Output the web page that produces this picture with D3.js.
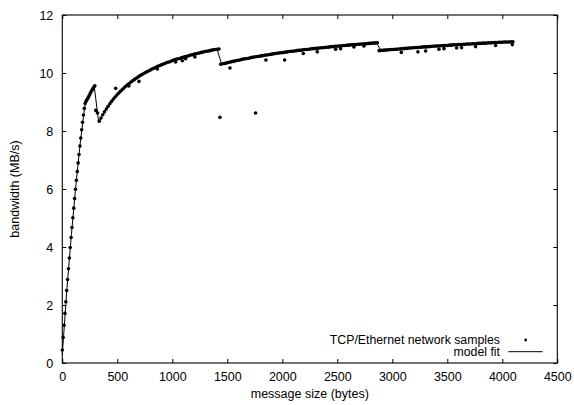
<!DOCTYPE html>
<html>
<head>
<meta charset="utf-8">
<script src="https://cdn.jsdelivr.net/npm/d3@7"></script>
<style>
  html, body { margin: 0; padding: 0; background: #fff; }
  svg { display: block; }
  text { font-family: "Liberation Sans", Arial, Helvetica, sans-serif; font-size: 12.5px; fill: #000; }
</style>
</head>
<body>
<script>
// ---------------- data ----------------
const xTicks = [0, 500, 1000, 1500, 2000, 2500, 3000, 3500, 4000, 4500];
const yTicks = [0, 2, 4, 6, 8, 10, 12];
const xLabel = "message size (bytes)";
const yLabel = "bandwidth (MB/s)";
const legendLabels = ["TCP/Ethernet network samples", "model fit"];

// measured samples [message size (bytes), bandwidth (MB/s)]
const samplesShort = [
  [0,0.45],[8,0.88],[16,1.30],[24,1.71],[32,2.11],[40,2.50],[48,2.88],[56,3.25],[64,3.62],[72,3.98],
  [80,4.33],[88,4.67],[96,5.01],[104,5.34],[112,5.67],[120,5.99],[128,6.30],[136,6.60],[144,6.90],[152,7.19],
  [160,7.48],[168,7.76],[176,8.04],[184,8.30],[192,8.55],[200,8.78],[208,8.95],[216,9.03],[224,9.08],[232,9.13],
  [240,9.19],[248,9.25],[256,9.31],[264,9.37],[272,9.42],[280,9.47],[288,9.52],[296,9.56],[304,8.71],[320,8.62]
];
const samplesOnePacket = [
  [336,8.34],[352,8.45],[368,8.56],[384,8.66],[400,8.76],[416,8.85],[432,8.94],[448,9.02],[464,9.10],[480,9.17],
  [496,9.24],[512,9.30],[528,9.37],[544,9.42],[560,9.48],[576,9.54],[592,9.59],[608,9.64],[624,9.69],[640,9.73],
  [656,9.78],[672,9.82],[688,9.86],[704,9.90],[720,9.94],[736,9.97],[752,10.01],[768,10.04],[784,10.07],[800,10.10],
  [816,10.14],[832,10.16],[848,10.19],[864,10.22],[880,10.25],[896,10.27],[912,10.30],[928,10.32],[944,10.35],[960,10.37],
  [976,10.39],[992,10.41],[1008,10.44],[1024,10.46],[1040,10.48],[1056,10.49],[1072,10.51],[1088,10.53],[1104,10.55],[1120,10.57],
  [1136,10.58],[1152,10.60],[1168,10.62],[1184,10.63],[1200,10.65],[1216,10.66],[1232,10.68],[1248,10.69],[1264,10.71],[1280,10.72],
  [1296,10.74],[1312,10.75],[1328,10.76],[1344,10.77],[1360,10.79],[1376,10.80],[1392,10.81],[1408,10.82],[1424,10.83]
];
const samplesTwoPackets = [
  [1440,10.30],[1456,10.32],[1472,10.33],[1488,10.34],[1504,10.36],[1520,10.37],[1536,10.39],[1552,10.40],[1568,10.41],[1584,10.43],
  [1600,10.44],[1616,10.45],[1632,10.47],[1648,10.48],[1664,10.49],[1680,10.50],[1696,10.51],[1712,10.53],[1728,10.54],[1744,10.55],
  [1760,10.56],[1776,10.57],[1792,10.58],[1808,10.59],[1824,10.60],[1840,10.61],[1856,10.62],[1872,10.63],[1888,10.64],[1904,10.65],
  [1920,10.66],[1936,10.67],[1952,10.68],[1968,10.69],[1984,10.70],[2000,10.70],[2016,10.71],[2032,10.72],[2048,10.73],[2064,10.74],
  [2080,10.75],[2096,10.75],[2112,10.76],[2128,10.77],[2144,10.78],[2160,10.78],[2176,10.79],[2192,10.80],[2208,10.81],[2224,10.81],
  [2240,10.82],[2256,10.83],[2272,10.84],[2288,10.84],[2304,10.85],[2320,10.85],[2336,10.86],[2352,10.87],[2368,10.87],[2384,10.88],
  [2400,10.89],[2416,10.89],[2432,10.90],[2448,10.91],[2464,10.91],[2480,10.92],[2496,10.92],[2512,10.93],[2528,10.93],[2544,10.94],
  [2560,10.95],[2576,10.95],[2592,10.96],[2608,10.96],[2624,10.97],[2640,10.97],[2656,10.98],[2672,10.98],[2688,10.99],[2704,10.99],
  [2720,11.00],[2736,11.00],[2752,11.01],[2768,11.01],[2784,11.02],[2800,11.02],[2816,11.03],[2832,11.03],[2848,11.04],[2864,11.04]
];
const samplesThreePackets = [
  [2880,10.77],[2896,10.78],[2912,10.78],[2928,10.79],[2944,10.79],[2960,10.80],[2976,10.80],[2992,10.81],[3008,10.81],[3024,10.82],
  [3040,10.82],[3056,10.83],[3072,10.83],[3088,10.84],[3104,10.84],[3120,10.85],[3136,10.85],[3152,10.86],[3168,10.86],[3184,10.87],
  [3200,10.87],[3216,10.88],[3232,10.88],[3248,10.89],[3264,10.89],[3280,10.90],[3296,10.90],[3312,10.90],[3328,10.91],[3344,10.91],
  [3360,10.92],[3376,10.92],[3392,10.93],[3408,10.93],[3424,10.93],[3440,10.94],[3456,10.94],[3472,10.95],[3488,10.95],[3504,10.95],
  [3520,10.96],[3536,10.96],[3552,10.97],[3568,10.97],[3584,10.97],[3600,10.98],[3616,10.98],[3632,10.98],[3648,10.99],[3664,10.99],
  [3680,11.00],[3696,11.00],[3712,11.00],[3728,11.01],[3744,11.01],[3760,11.01],[3776,11.02],[3792,11.02],[3808,11.02],[3824,11.03],
  [3840,11.03],[3856,11.03],[3872,11.04],[3888,11.04],[3904,11.04],[3920,11.05],[3936,11.05],[3952,11.05],[3968,11.06],[3984,11.06],
  [4000,11.06],[4016,11.07],[4032,11.07],[4048,11.07],[4064,11.07],[4080,11.08],[4096,11.08]
];
const samplesOutliers = [
  [485,9.47],[605,9.55],[697,9.71],[864,10.14],[1030,10.38],[1091,10.42],[1121,10.49],[1205,10.55],
  [1433,8.47],[1757,8.62],[1524,10.17],[1851,10.45],[2021,10.45],[2191,10.67],[2318,10.73],[2485,10.82],
  [2530,10.84],[2651,10.90],[2742,10.93],[3082,10.71],[3233,10.73],[3303,10.76],[3424,10.82],[3470,10.84],
  [3585,10.86],[3630,10.87],[3757,10.91],[3939,10.95],[4091,10.98]
];

// model fit curve [message size (bytes), bandwidth (MB/s)]
const modelFit = [
  [0,0.30],[41,2.50],[83,4.44],[124,6.15],[166,7.69],[207,8.93],[248,9.25],[290,9.55],
  [331,8.30],[372,8.59],[414,8.84],[538,9.40],[662,9.79],[828,10.16],[993,10.42],[1158,10.61],[1324,10.76],[1407,10.82],
  [1448,10.31],[1655,10.48],[1903,10.65],[2151,10.78],[2441,10.90],[2648,10.97],[2855,11.04],
  [2896,10.78],[3186,10.87],[3475,10.95],[3806,11.02],[4096,11.08]
];

// ---------------- drawing ----------------
const W = 574, H = 405;
const plot = { left: 62.3, right: 557.3, top: 15, bottom: 363 };

const svg = d3.select("body").append("svg").attr("width", W).attr("height", H);

const x = d3.scaleLinear().domain([0, 4500]).range([plot.left, plot.right]);
const y = d3.scaleLinear().domain([0, 12]).range([plot.bottom, plot.top]);

const tickLen = 4;

const gB = svg.append("g").attr("transform", `translate(0,${plot.bottom})`)
  .call(d3.axisBottom(x).tickValues(xTicks).tickFormat(d3.format("d"))
    .tickSizeInner(-tickLen).tickSizeOuter(0).tickPadding(9));
const gT = svg.append("g").attr("transform", `translate(0,${plot.top})`)
  .call(d3.axisTop(x).tickValues(xTicks).tickFormat("")
    .tickSizeInner(-tickLen).tickSizeOuter(0));
const gL = svg.append("g").attr("transform", `translate(${plot.left},0)`)
  .call(d3.axisLeft(y).tickValues(yTicks).tickFormat(d3.format("d"))
    .tickSizeInner(-tickLen).tickSizeOuter(0).tickPadding(9));
const gR = svg.append("g").attr("transform", `translate(${plot.right},0)`)
  .call(d3.axisRight(y).tickValues(yTicks).tickFormat("")
    .tickSizeInner(-tickLen).tickSizeOuter(0));

[gB, gT, gL, gR].forEach(g => {
  g.select(".domain").remove();
  g.selectAll(".tick line").attr("stroke", "#000").attr("stroke-width", 1);
  g.selectAll(".tick text").attr("fill", "#000")
    .style("font-family", '"Liberation Sans", Arial, Helvetica, sans-serif')
    .style("font-size", "12.5px");
  g.attr("font-family", null).attr("font-size", null);
});

// border box
svg.append("rect")
  .attr("x", plot.left).attr("y", plot.top)
  .attr("width", plot.right - plot.left).attr("height", plot.bottom - plot.top)
  .attr("fill", "none").attr("stroke", "#000").attr("stroke-width", 1.1);

// axis labels
svg.append("text")
  .attr("x", (plot.left + plot.right) / 2).attr("y", 397.5)
  .attr("text-anchor", "middle").text(xLabel);
svg.append("text")
  .attr("transform", `translate(15,${(plot.top + plot.bottom) / 2}) rotate(-90)`)
  .attr("text-anchor", "middle").attr("dy", "0.35em").text(yLabel);

// model fit line
const line = d3.line().x(d => x(d[0])).y(d => y(d[1]));
svg.append("path").datum(modelFit)
  .attr("d", line).attr("fill", "none").attr("stroke", "#000").attr("stroke-width", 1);

// sample points
const allSamples = [].concat(samplesShort, samplesOnePacket, samplesTwoPackets, samplesThreePackets, samplesOutliers);
svg.append("g").selectAll("circle").data(allSamples).join("circle")
  .attr("cx", d => x(d[0])).attr("cy", d => y(d[1])).attr("r", 1.8).attr("fill", "#000");

// legend
const legX = 500;
svg.append("text").attr("x", legX).attr("y", 344).attr("text-anchor", "end")
  .style("font-size", "12.3px").text(legendLabels[0]);
svg.append("text").attr("x", legX).attr("y", 356.3).attr("text-anchor", "end")
  .style("font-size", "12.3px").text(legendLabels[1]);
svg.append("circle").attr("cx", 525.7).attr("cy", 340).attr("r", 1.4).attr("fill", "#000");
svg.append("line").attr("x1", 508.3).attr("x2", 542.7).attr("y1", 351.7).attr("y2", 351.7)
  .attr("stroke", "#000").attr("stroke-width", 1);
</script>
</body>
</html>
